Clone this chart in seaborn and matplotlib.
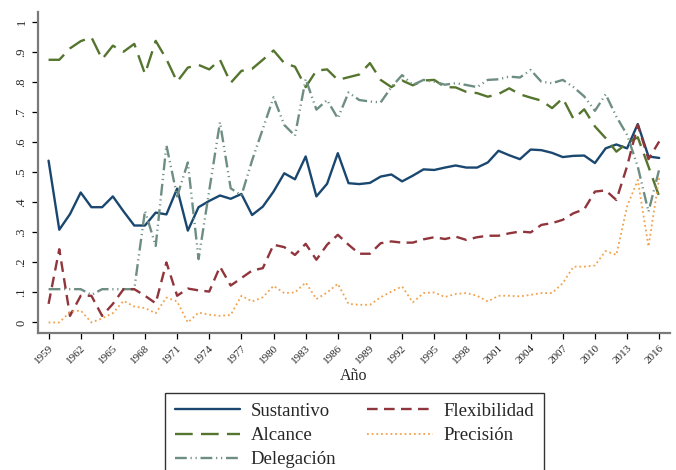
import numpy as np
import pandas as pd
import matplotlib
matplotlib.use("Agg")
import matplotlib.pyplot as plt
import seaborn as sns

years = list(range(1959, 2017))

sustantivo = [0.539, 0.309, 0.361, 0.433, 0.384, 0.384, 0.420, 0.370, 0.323, 0.323,
              0.366, 0.360, 0.446, 0.306, 0.384, 0.405, 0.423, 0.412, 0.428, 0.358,
              0.386, 0.436, 0.497, 0.477, 0.553, 0.420, 0.462, 0.564, 0.464, 0.461,
              0.465, 0.486, 0.493, 0.470, 0.489, 0.510, 0.508, 0.516, 0.523, 0.516,
              0.516, 0.533, 0.572, 0.557, 0.544, 0.576, 0.574, 0.565, 0.551, 0.555,
              0.556, 0.531, 0.580, 0.593, 0.580, 0.661, 0.553, 0.548]

alcance = [0.875, 0.875, 0.913, 0.937, 0.950, 0.877, 0.922, 0.902, 0.928, 0.828,
           0.938, 0.877, 0.802, 0.849, 0.858, 0.843, 0.875, 0.798, 0.838, 0.845,
           0.875, 0.906, 0.864, 0.852, 0.784, 0.839, 0.843, 0.808, 0.817, 0.826,
           0.864, 0.808, 0.784, 0.806, 0.790, 0.806, 0.808, 0.784, 0.783, 0.768,
           0.764, 0.752, 0.761, 0.780, 0.760, 0.749, 0.739, 0.714, 0.747, 0.678,
           0.710, 0.653, 0.614, 0.569, 0.597, 0.617, 0.519, 0.420]

delegacion = [0.111, 0.111, 0.111, 0.111, 0.092, 0.111, 0.111, 0.111, 0.111, 0.372,
              0.255, 0.590, 0.420, 0.533, 0.211, 0.440, 0.667, 0.447, 0.423, 0.540,
              0.645, 0.750, 0.658, 0.622, 0.811, 0.709, 0.741, 0.680, 0.766, 0.741,
              0.736, 0.733, 0.784, 0.824, 0.791, 0.808, 0.802, 0.792, 0.797, 0.791,
              0.784, 0.808, 0.810, 0.819, 0.816, 0.841, 0.802, 0.797, 0.808, 0.784,
              0.753, 0.705, 0.760, 0.686, 0.625, 0.519, 0.369, 0.510]

flexibilidad = [0.062, 0.244, 0.022, 0.089, 0.089, 0.022, 0.062, 0.111, 0.111, 0.089,
                0.064, 0.200, 0.089, 0.113, 0.107, 0.103, 0.186, 0.123, 0.148, 0.173,
                0.181, 0.259, 0.251, 0.225, 0.262, 0.209, 0.259, 0.292, 0.259, 0.229,
                0.229, 0.264, 0.270, 0.266, 0.266, 0.277, 0.284, 0.278, 0.286, 0.275,
                0.284, 0.289, 0.289, 0.297, 0.303, 0.300, 0.325, 0.331, 0.342, 0.364,
                0.377, 0.436, 0.440, 0.408, 0.520, 0.658, 0.544, 0.603]

precision = [0.000, 0.000, 0.035, 0.040, 0.000, 0.014, 0.031, 0.072, 0.053, 0.048,
             0.031, 0.083, 0.070, 0.000, 0.033, 0.026, 0.022, 0.025, 0.089, 0.070,
             0.084, 0.122, 0.098, 0.100, 0.133, 0.078, 0.100, 0.129, 0.062, 0.059,
             0.059, 0.084, 0.103, 0.120, 0.067, 0.098, 0.100, 0.085, 0.095, 0.098,
             0.089, 0.070, 0.089, 0.089, 0.087, 0.092, 0.098, 0.098, 0.131, 0.186,
             0.186, 0.190, 0.238, 0.225, 0.386, 0.475, 0.253, 0.483]

names = ["Sustantivo", "Alcance", "Delegación", "Flexibilidad", "Precisión"]
colors = ["#1a476f", "#55752f", "#6e8e84", "#90353b", "#f2a24f"]
dash_styles = ["", (7.5, 3.5), (5, 1.6, 0.5, 1.6, 0.5, 1.6), (4.5, 2.7), (1, 1.6)]

x_ticks = list(range(1959, 2017, 3))
y_ticks = [round(0.1 * i, 1) for i in range(11)]
y_tick_labels = ["0", ".1", ".2", ".3", ".4", ".5", ".6", ".7", ".8", ".9", "1"]

sns.set_style("ticks")
plt.rcParams["font.family"] = ["Liberation Serif", "DejaVu Serif"]

values = sustantivo + alcance + delegacion + flexibilidad + precision
df = pd.DataFrame({
    "Año": years * len(names),
    "valor": values,
    "serie": np.repeat(names, len(years)),
})

fig = plt.figure(figsize=(6.76, 4.7), dpi=100)
ax = fig.add_axes([0.056, 0.2915, 0.935, 0.6835])

sns.lineplot(data=df, x="Año", y="valor", hue="serie", style="serie",
             hue_order=names, style_order=names,
             palette=dict(zip(names, colors)),
             dashes=dict(zip(names, dash_styles)),
             linewidth=1.7, estimator=None, legend=False, ax=ax)

lines = ax.get_lines()[:5]
lines[4].set_linewidth(1.3)

ax.set_xlim(1958, 2017)
ax.set_ylim(-0.035, 1.035)
ax.set_xticks(x_ticks)
ax.set_xticklabels([str(y) for y in x_ticks], rotation=45, ha="right",
                   rotation_mode="anchor", fontsize=8)
ax.set_yticks(y_ticks)
ax.set_yticklabels(y_tick_labels, rotation=90, va="center", fontsize=9)
ax.tick_params(axis="both", direction="out", length=4, width=0.9, color="black")
ax.set_xlabel("Año", fontsize=11.5, labelpad=2)
ax.set_ylabel("")

sns.despine(ax=ax)
for side in ("left", "bottom"):
    ax.spines[side].set_color("#7a7a7a")
    ax.spines[side].set_linewidth(1.6)

leg = fig.legend(handles=lines, labels=names, ncol=2, loc="upper center",
                 bbox_to_anchor=(0.524, 0.164), frameon=True, fancybox=False,
                 edgecolor="black", fontsize=13.5, handlelength=3.5,
                 handletextpad=0.55, columnspacing=1.65, labelspacing=0.38,
                 borderpad=0.53, borderaxespad=0.0)
leg.get_frame().set_linewidth(1.0)

fig.savefig("out.png", dpi=100)
